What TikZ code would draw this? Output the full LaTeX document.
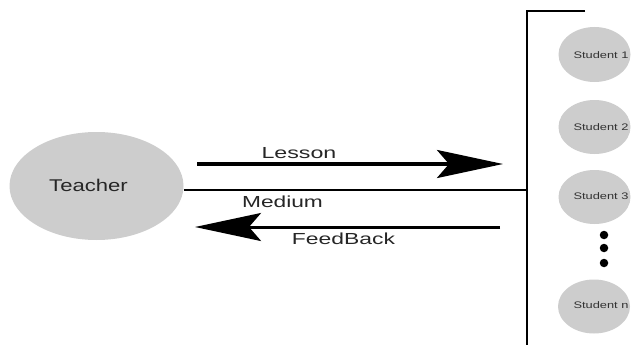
\documentclass[tikz,border=0pt]{standalone}
\usepackage{fontspec}
\setmainfont{Liberation Sans}
\usetikzlibrary{arrows.meta,shapes.geometric}
\definecolor{bubble}{RGB}{205,205,205}
\newcommand{\wide}[2]{\scalebox{#1}[1]{#2}}
\begin{document}
\begin{tikzpicture}[x=1pt,y=-1pt,
  bub/.style={ellipse,fill=bubble,draw=none,inner sep=0pt},
  lbl/.style={inner sep=0pt,text=black!85,font=\fontsize{16}{16}\selectfont},
  slbl/.style={inner sep=0pt,text=black!80,font=\fontsize{9.5}{9.5}\selectfont},
  wire/.style={draw=black,line width=1.5pt},
  bigarrow/.style={draw=black,line width=3.5pt,-{Stealth[length=66pt,width=28pt,inset=12pt]}},
  dot/.style={circle,fill=black,inner sep=0pt,minimum size=8.5pt}]
\useasboundingbox (0,0) rectangle (631,345);
% teacher
\node[bub,minimum width=174pt,minimum height=108pt] (teacher) at (96.5,186) {};
\node[lbl] (teachertext) at (88.5,185.5) {\wide{1.3}{\fontsize{17}{17}\selectfont Teacher}};
% bar
\coordinate (bartop) at (527,11);
\coordinate (barbot) at (527,345);
\coordinate (topend) at (585,11);
\coordinate (barmid) at (527,190);
\draw[line width=2pt] (topend) -- (bartop) -- (barbot);
% medium line
\draw[wire] (teacher.east |- barmid) -- (barmid);
% arrows
\coordinate (ls) at (197,164);
\coordinate (le) at (503,164);
\coordinate (fs) at (500,227);
\coordinate (fe) at (195,227);
\draw[bigarrow] (ls) -- (le);
\draw[bigarrow,line width=3pt] (fs) -- (fe);
\node[lbl] (lesson) at (299,153) {\wide{1.45}{Lesson}};
\node[lbl] (medium) at (282.5,201.5) {\wide{1.42}{Medium}};
\node[lbl] (feedback) at (343.5,238.5) {\wide{1.43}{FeedBack}};
% students
\node[bub,minimum width=72pt,minimum height=55pt] (s1) at (594.5,54.5) {};
\node[bub,minimum width=72pt,minimum height=54pt] (s2) at (594.5,127) {};
\node[bub,minimum width=72pt,minimum height=54pt] (s3) at (594.5,197) {};
\node[bub,minimum width=72pt,minimum height=54pt] (sn) at (594,306.5) {};
\node[slbl] (s1t) at (601,55) {\wide{1.35}{Student 1}};
\node[slbl] (s2t) at (601,127) {\wide{1.35}{Student 2}};
\node[slbl] (s3t) at (601,196) {\wide{1.35}{Student 3}};
\node[slbl] (snt) at (601,305) {\wide{1.35}{Student n}};
\node[dot] (d1) at (604,235) {};
\node[dot] (d2) at (604,248) {};
\node[dot] (d3) at (604,263) {};
\end{tikzpicture}
\end{document}
